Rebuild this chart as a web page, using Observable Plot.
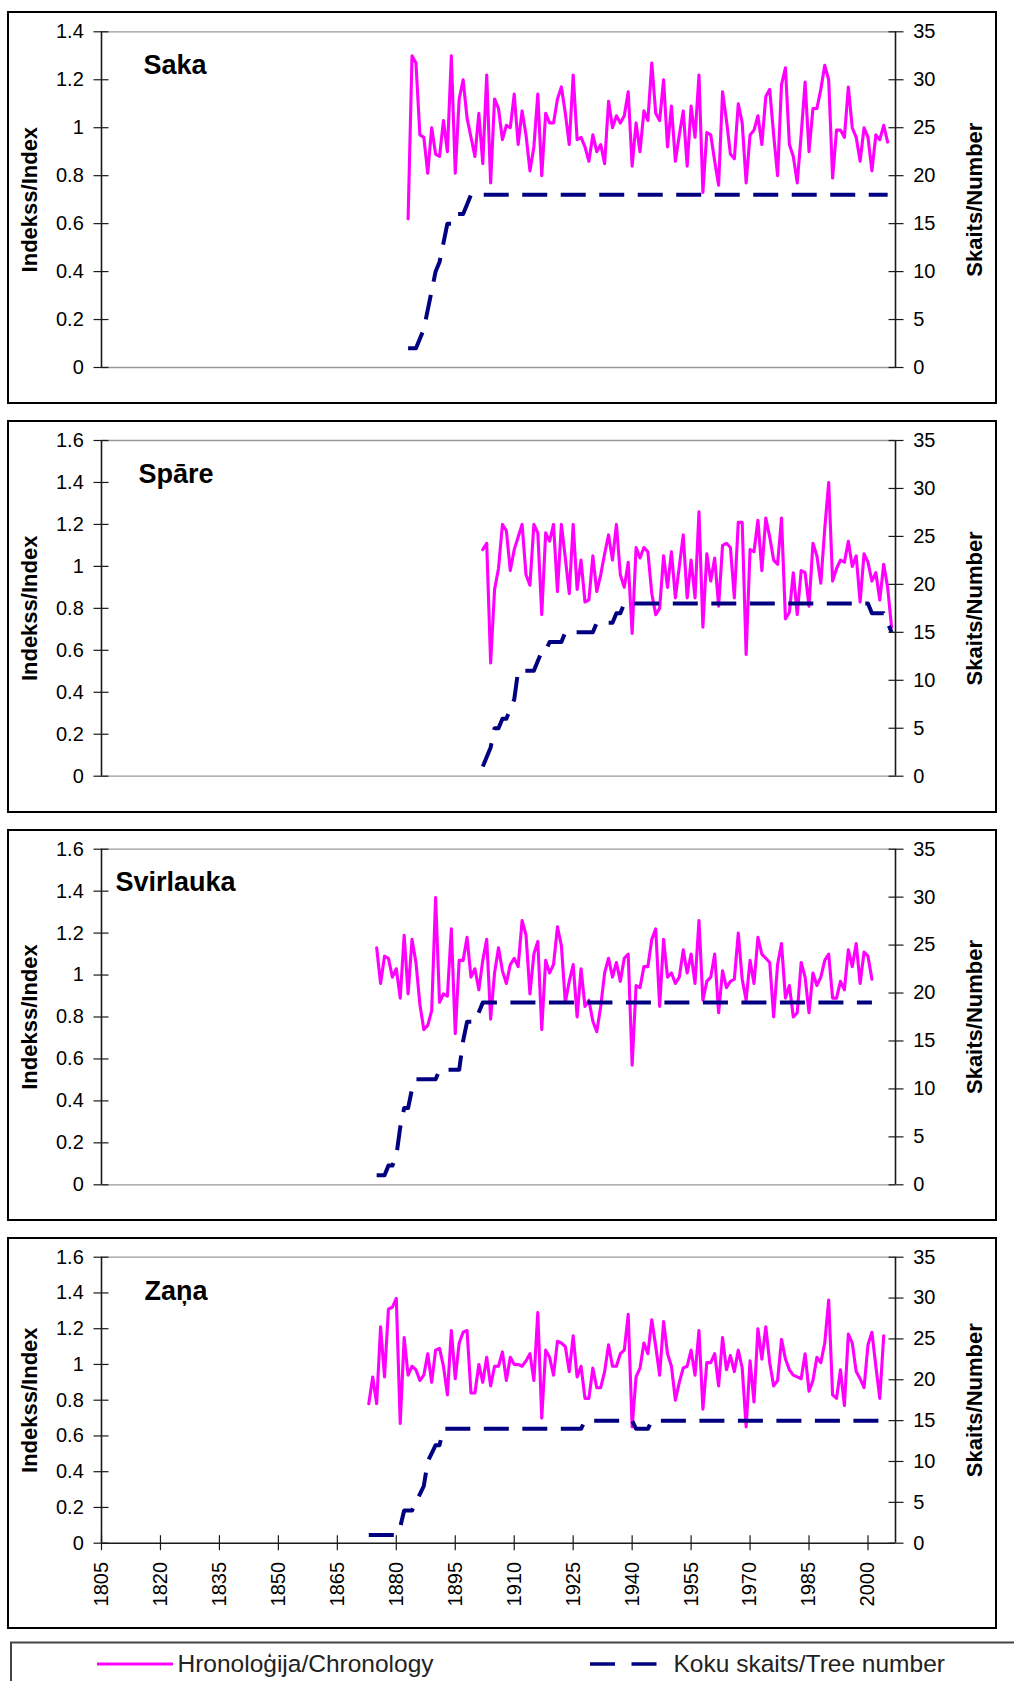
<!DOCTYPE html>
<html>
<head>
<meta charset="utf-8">
<script src="https://cdn.jsdelivr.net/npm/d3@7"></script>
<script src="https://cdn.jsdelivr.net/npm/@observablehq/plot@0.6"></script>
<style>
  html, body { margin: 0; padding: 0; background: #fff; }
  #page { position: relative; width: 1014px; height: 1681px; overflow: hidden; background: #fff; }
  .panel-svg { position: absolute; left: 0; }
  .frame { position: absolute; left: 7px; width: 990px; border: 2px solid #000; box-sizing: border-box; }
</style>
</head>
<body>
<div id="page"></div>
<script>
// ---- axis ticks -------------------------------------------------------
const xDomain = [1805, 2007];
const xTicks = [1805, 1820, 1835, 1850, 1865, 1880, 1895, 1910, 1925, 1940, 1955, 1970, 1985, 2000];
const indexTicks14 = [0, 0.2, 0.4, 0.6, 0.8, 1, 1.2, 1.4];
const indexTicks16 = [0, 0.2, 0.4, 0.6, 0.8, 1, 1.2, 1.4, 1.6];
const treeTicks = [0, 5, 10, 15, 20, 25, 30, 35];

const leftTitle = "Indekss/Index";
const rightTitle = "Skaits/Number";
const legendLabels = ["Hronoloģija/Chronology", "Koku skaits/Tree number"];

// ---- Saka --------------------------------------------------------------
const sakaStart = 1883;
const sakaIndex = [
  0.62, 1.30, 1.27, 0.97, 0.96, 0.81, 1.00, 0.89, 0.88, 1.03,
  0.90, 1.30, 0.81, 1.12, 1.20, 1.04, 0.96, 0.88, 1.06, 0.85,
  1.22, 0.77, 1.12, 1.08, 0.95, 1.01, 1.00, 1.14, 0.93, 1.07,
  0.97, 0.82, 0.92, 1.14, 0.80, 1.06, 1.02, 1.02, 1.12, 1.17,
  1.06, 0.93, 1.22, 0.95, 0.96, 0.92, 0.86, 0.97, 0.90, 0.93,
  0.85, 1.11, 1.00, 1.05, 1.02, 1.05, 1.15, 0.84, 1.02, 0.90,
  1.07, 1.03, 1.27, 1.06, 1.03, 1.20, 0.92, 1.09, 0.86, 0.97,
  1.07, 0.84, 1.09, 0.96, 1.22, 0.73, 0.98, 0.97, 0.86, 0.76,
  1.15, 1.03, 0.89, 0.87, 1.10, 1.02, 0.77, 0.97, 0.99, 1.05,
  0.93, 1.13, 1.16, 0.97, 0.80, 1.18, 1.25, 0.93, 0.88, 0.77,
  0.97, 1.19, 0.90, 1.08, 1.08, 1.16, 1.26, 1.20, 0.79, 0.99,
  0.99, 0.96, 1.17, 1.00, 0.96, 0.86, 1.00, 0.96, 0.82, 0.97,
  0.95, 1.01, 0.94
];
const sakaTrees = [
  2, 2, 2, 3, 4, 6, 8, 10, 11, 13,
  15, 15, 16, 16, 16, 17, 18, 18, 18, 18,
  18, 18, 18, 18, 18, 18, 18, 18, 18, 18,
  18, 18, 18, 18, 18, 18, 18, 18, 18, 18,
  18, 18, 18, 18, 18, 18, 18, 18, 18, 18,
  18, 18, 18, 18, 18, 18, 18, 18, 18, 18,
  18, 18, 18, 18, 18, 18, 18, 18, 18, 18,
  18, 18, 18, 18, 18, 18, 18, 18, 18, 18,
  18, 18, 18, 18, 18, 18, 18, 18, 18, 18,
  18, 18, 18, 18, 18, 18, 18, 18, 18, 18,
  18, 18, 18, 18, 18, 18, 18, 18, 18, 18,
  18, 18, 18, 18, 18, 18, 18, 18, 18, 18,
  18, 18, 18
];

// ---- Spāre -------------------------------------------------------------
const spareStart = 1902;
const spareIndex = [
  1.08, 1.11, 0.54, 0.89, 0.99, 1.20, 1.17, 0.98, 1.08, 1.14,
  1.20, 0.96, 0.91, 1.20, 1.16, 0.77, 1.16, 1.12, 1.20, 0.88,
  1.20, 1.04, 0.87, 1.20, 0.89, 1.03, 0.83, 0.84, 1.05, 0.88,
  0.96, 1.06, 1.15, 1.03, 1.20, 0.96, 0.90, 1.02, 0.68, 1.09,
  1.04, 1.09, 1.07, 0.87, 0.77, 0.80, 1.05, 0.90, 1.07, 0.85,
  1.00, 1.15, 0.85, 1.03, 0.85, 1.26, 0.71, 1.06, 0.93, 1.04,
  0.81, 1.10, 1.11, 1.09, 0.85, 1.21, 1.21, 0.58, 1.08, 1.07,
  1.22, 0.98, 1.23, 1.14, 1.03, 1.01, 1.23, 0.75, 0.78, 0.97,
  0.77, 0.98, 0.97, 0.81, 1.11, 1.05, 0.92, 1.18, 1.40, 0.93,
  0.99, 1.03, 1.02, 1.12, 1.00, 1.05, 0.83, 1.06, 1.02, 0.93,
  0.97, 0.84, 1.01, 0.90, 0.71
];
const spareTrees = [
  1, 2, 3, 5, 5, 6, 6, 7, 8, 11,
  11, 11, 11, 11, 12, 13, 13, 14, 14, 14,
  14, 15, 15, 15, 15, 15, 15, 15, 15, 16,
  16, 16, 16, 16, 17, 17, 18, 18, 18, 18,
  18, 18, 18, 18, 18, 18, 18, 18, 18, 18,
  18, 18, 18, 18, 18, 18, 18, 18, 18, 18,
  18, 18, 18, 18, 18, 18, 18, 18, 18, 18,
  18, 18, 18, 18, 18, 18, 18, 18, 18, 18,
  18, 18, 18, 18, 18, 18, 18, 18, 18, 18,
  18, 18, 18, 18, 18, 18, 18, 18, 18, 17,
  17, 17, 17, 16, 15
];

// ---- Svirlauka ----------------------------------------------------------
const svirStart = 1875;
const svirIndex = [
  1.13, 0.96, 1.09, 1.08, 0.99, 1.03, 0.89, 1.19, 0.91, 1.17,
  1.06, 0.86, 0.74, 0.76, 0.83, 1.37, 0.87, 0.91, 0.90, 1.22,
  0.72, 1.07, 1.07, 1.18, 0.99, 1.03, 0.93, 1.07, 1.17, 0.79,
  1.01, 1.13, 1.02, 0.96, 1.05, 1.08, 1.04, 1.26, 1.19, 0.91,
  1.10, 1.16, 0.74, 1.07, 1.01, 1.05, 1.23, 1.14, 0.87, 0.97,
  1.05, 0.80, 1.03, 0.85, 0.88, 0.78, 0.73, 0.85, 1.01, 1.08,
  0.99, 1.06, 0.97, 1.08, 1.10, 0.57, 0.95, 0.94, 1.04, 1.04,
  1.17, 1.22, 0.85, 1.17, 0.99, 1.01, 0.96, 0.99, 1.12, 1.01,
  1.10, 0.96, 1.26, 0.88, 0.97, 0.99, 1.10, 0.82, 1.02, 0.94,
  0.97, 0.98, 1.20, 0.98, 0.88, 1.07, 0.96, 1.18, 1.10, 1.08,
  1.06, 0.80, 1.05, 1.15, 0.89, 0.95, 0.80, 0.82, 1.06, 0.99,
  0.82, 1.01, 0.95, 0.99, 1.07, 1.10, 0.89, 0.89, 0.97, 0.93,
  1.12, 1.04, 1.15, 0.96, 1.11, 1.09, 0.98
];
const svirTrees = [
  1, 1, 1, 2, 2, 3, 6, 8, 8, 10,
  11, 11, 11, 11, 11, 11, 12, 12, 12, 12,
  12, 12, 15, 17, 17, 17, 18, 19, 19, 19,
  19, 19, 19, 19, 19, 19, 19, 19, 19, 19,
  19, 19, 19, 19, 19, 19, 19, 19, 19, 19,
  19, 19, 19, 19, 19, 19, 19, 19, 19, 19,
  19, 19, 19, 19, 19, 19, 19, 19, 19, 19,
  19, 19, 19, 19, 19, 19, 19, 19, 19, 19,
  19, 19, 19, 19, 19, 19, 19, 19, 19, 19,
  19, 19, 19, 19, 19, 19, 19, 19, 19, 19,
  19, 19, 19, 19, 19, 19, 19, 19, 19, 19,
  19, 19, 19, 19, 19, 19, 19, 19, 19, 19,
  19, 19, 19, 19, 19, 19, 19
];

// ---- Zaņa --------------------------------------------------------------
const zanaStart = 1873;
const zanaIndex = [
  0.78, 0.93, 0.78, 1.21, 0.93, 1.31, 1.32, 1.37, 0.67, 1.15,
  0.94, 0.99, 0.97, 0.91, 0.94, 1.06, 0.90, 1.08, 1.09, 0.99,
  0.83, 1.19, 0.92, 1.12, 1.18, 1.19, 0.84, 0.84, 1.00, 0.90,
  1.04, 0.88, 0.99, 0.99, 1.07, 0.91, 1.04, 1.00, 1.00, 0.99,
  1.02, 1.06, 0.91, 1.29, 0.70, 1.08, 1.04, 0.94, 1.13, 1.12,
  1.10, 0.96, 1.16, 0.93, 0.99, 0.81, 0.81, 0.98, 0.87, 0.87,
  0.96, 1.11, 0.99, 0.99, 1.06, 1.08, 1.28, 0.65, 0.93, 0.98,
  1.12, 1.06, 1.25, 1.10, 0.94, 1.24, 1.06, 0.99, 0.80, 0.90,
  0.98, 0.99, 1.08, 0.94, 1.19, 0.75, 1.01, 1.01, 1.06, 0.88,
  1.15, 0.97, 1.05, 0.96, 1.08, 0.98, 0.65, 1.02, 0.79, 1.20,
  1.03, 1.21, 1.01, 0.88, 0.91, 1.14, 1.03, 0.97, 0.94, 0.93,
  0.92, 1.06, 0.85, 0.91, 1.04, 1.01, 1.12, 1.36, 0.83, 0.81,
  0.97, 0.77, 1.17, 1.12, 0.96, 0.92, 0.87, 1.11, 1.18, 0.99,
  0.81, 1.16
];
const zanaTrees = [
  1, 1, 1, 1, 1, 1, 1, 1, 2, 4,
  4, 4, 5, 6, 7, 10, 11, 12, 12, 14,
  14, 14, 14, 14, 14, 14, 14, 14, 14, 14,
  14, 14, 14, 14, 14, 14, 14, 14, 14, 14,
  14, 14, 14, 14, 14, 14, 14, 14, 14, 14,
  14, 14, 14, 14, 14, 15, 15, 15, 15, 15,
  15, 15, 15, 15, 15, 15, 15, 15, 14, 14,
  14, 14, 15, 15, 15, 15, 15, 15, 15, 15,
  15, 15, 15, 15, 15, 15, 15, 15, 15, 15,
  15, 15, 15, 15, 15, 15, 15, 15, 15, 15,
  15, 15, 15, 15, 15, 15, 15, 15, 15, 15,
  15, 15, 15, 15, 15, 15, 15, 15, 15, 15,
  15, 15, 15, 15, 15, 15, 15, 15, 15, 15,
  15, 15
];

// ---- panel definitions -------------------------------------------------
const sites = [
  {name: "Saka",      start: sakaStart,  index: sakaIndex,  trees: sakaTrees,  yTicks: indexTicks14},
  {name: "Spāre",     start: spareStart, index: spareIndex, trees: spareTrees, yTicks: indexTicks16},
  {name: "Svirlauka", start: svirStart,  index: svirIndex,  trees: svirTrees,  yTicks: indexTicks16},
  {name: "Zaņa",      start: zanaStart,  index: zanaIndex,  trees: zanaTrees,  yTicks: indexTicks16}
];

// page placement of each framed panel
const layout = [
  {top: 12,   height: 391, mt: 19.3, mb: 36,   titleDx: 42, titleDy: 23.5},
  {top: 421,  height: 391, mt: 19,   mb: 36.3, titleDx: 37, titleDy: 23.5},
  {top: 830,  height: 390, mt: 18.7, mb: 35.7, titleDx: 14, titleDy: 23},
  {top: 1238, height: 390, mt: 18.7, mb: 85.3, titleDx: 43, titleDy: 24}
];

const FONT = '"Liberation Sans", Arial, Helvetica, sans-serif';
const AXIS = "#1a1a1a";
const page = document.getElementById("page");

sites.forEach((site, i) => {
  const L = layout[i];
  const withXAxis = i === sites.length - 1;
  const yMax = site.yTicks[site.yTicks.length - 1];
  const k = yMax / treeTicks[treeTicks.length - 1]; // tree count -> index units
  const rows = site.index.map((v, j) => ({year: site.start + j, index: v, trees: site.trees[j]}));

  const marks = [
    // plot-area border (grey)
    Plot.ruleY([yMax], {stroke: "#999", strokeWidth: 1.3}),
    withXAxis ? null : Plot.ruleY([0], {stroke: "#999", strokeWidth: 1.3}),
    // chronology
    Plot.line(rows, {x: "year", y: "index", stroke: "#ff00ff", strokeWidth: 3.1}),
    // tree number on the secondary scale
    Plot.line(rows, {x: "year", y: d => d.trees * k, stroke: "#000080", strokeWidth: 4,
                     strokeDasharray: "25,13.5", strokeLinecap: "butt", strokeLinejoin: "round"}),
    // axis lines
    Plot.ruleX([xDomain[0]], {stroke: AXIS, strokeWidth: 1.6}),
    Plot.ruleX([xDomain[1]], {stroke: AXIS, strokeWidth: 1.6}),
    withXAxis ? Plot.ruleY([0], {stroke: AXIS, strokeWidth: 1.6}) : null,
    // primary y axis (index)
    Plot.axisY(site.yTicks, {anchor: "left", tickSize: 15, dx: 7.5, tickPadding: 10.2,
                             stroke: AXIS, strokeWidth: 1.2, label: null, fontSize: 20,
                             tickFormat: d => String(d)}),
    // secondary y axis (tree number)
    Plot.axisY(treeTicks.map(t => t * k), {anchor: "right", tickSize: 15, dx: -7.5, tickPadding: 10.2,
                             stroke: AXIS, strokeWidth: 1.2, label: null, fontSize: 20,
                             tickFormat: d => String(Math.round(d / k))}),
    withXAxis ? Plot.axisX(xTicks, {anchor: "bottom", tickSize: 15, dy: -7.5, tickPadding: 11.2,
                             tickRotate: -90, stroke: AXIS, strokeWidth: 1.2, label: null, fontSize: 20,
                             tickFormat: d => String(d)}) : null,
    // axis titles
    Plot.text([leftTitle], {frameAnchor: "left", dx: -71.5, rotate: -90, textAnchor: "middle",
                            lineAnchor: "middle", fontSize: 22, fontWeight: "bold", fill: "#000"}),
    Plot.text([rightTitle], {frameAnchor: "right", dx: 79.5, rotate: -90, textAnchor: "middle",
                             lineAnchor: "middle", fontSize: 22, fontWeight: "bold", fill: "#000"}),
    // site name
    Plot.text([site.name], {frameAnchor: "top-left", dx: L.titleDx, dy: L.titleDy, textAnchor: "start",
                            lineAnchor: "top", fontSize: 27, fontWeight: "bold", fill: "#000"})
  ].filter(Boolean);

  const svg = Plot.plot({
    width: 1014,
    height: L.height,
    marginLeft: 101,
    marginRight: 119,
    marginTop: L.mt,
    marginBottom: L.mb,
    x: {domain: xDomain, axis: null},
    y: {domain: [0, yMax], axis: null, label: null},
    style: {background: "none", overflow: "visible", fontFamily: FONT, fontSize: "20px", color: "#000"},
    marks
  });
  svg.classList.add("panel-svg");
  svg.style.top = L.top + "px";
  svg.style.position = "absolute";
  page.appendChild(svg);

  const frame = document.createElement("div");
  frame.className = "frame";
  frame.style.top = (L.top - 1) + "px";
  frame.style.height = (L.height + 2) + "px";
  page.appendChild(frame);
});

// ---- legend below the panels -------------------------------------------
const legend = d3.select(page).append("svg")
  .attr("width", 1014).attr("height", 40)
  .style("position", "absolute").style("left", "0px").style("top", "1641px")
  .style("font-family", FONT);

legend.append("rect")
  .attr("x", 11).attr("y", 1.5).attr("width", 1030).attr("height", 80)
  .attr("fill", "none").attr("stroke", "#444").attr("stroke-width", 2);

legend.append("line")
  .attr("x1", 97).attr("x2", 173).attr("y1", 23).attr("y2", 23)
  .attr("stroke", "#ff00ff").attr("stroke-width", 3);
legend.append("text")
  .attr("x", 177.5).attr("y", 31)
  .attr("font-size", 24.5).attr("fill", "#222")
  .text(legendLabels[0]);

legend.append("line")
  .attr("x1", 590).attr("x2", 657).attr("y1", 23).attr("y2", 23)
  .attr("stroke", "#000080").attr("stroke-width", 3.4)
  .attr("stroke-dasharray", "25,16.5");
legend.append("text")
  .attr("x", 673.5).attr("y", 31)
  .attr("font-size", 24.5).attr("fill", "#222")
  .text(legendLabels[1]);
</script>
</body>
</html>
